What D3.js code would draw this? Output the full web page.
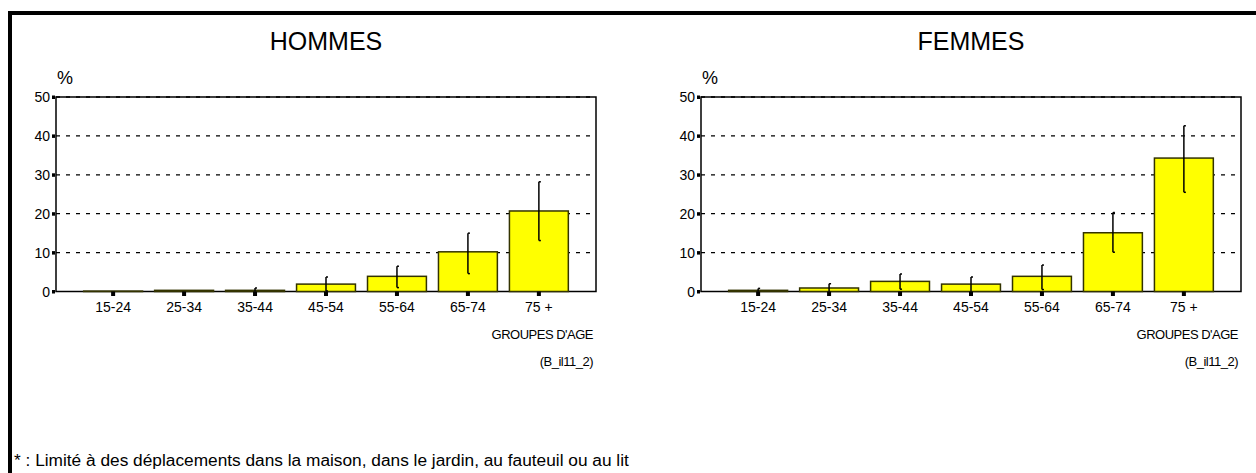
<!DOCTYPE html>
<html>
<head>
<meta charset="utf-8">
<script src="https://cdn.jsdelivr.net/npm/d3@7"></script>
<style>
  body { margin: 0; background: #fff; }
  text { font-family: Arial, "Liberation Sans", sans-serif; fill: #000; }
</style>
</head>
<body>
<div id="chart"></div>
<script>
// age groups
var ageGroups = ['15-24', '25-34', '35-44', '45-54', '55-64', '65-74', '75 +'];
var yTicks = [0, 10, 20, 30, 40, 50];

// hommes : % and confidence interval
var menValues = [0.1, 0.3, 0.3, 1.9, 3.9, 10.2, 20.7];
var menLow = [0, 0, 0, 0.1, 1.0, 4.6, 13.1];
var menHigh = [0, 0, 0.9, 3.7, 6.5, 15.0, 28.2];

// femmes
var womenValues = [0.3, 0.9, 2.6, 1.9, 3.9, 15.1, 34.3];
var womenLow = [0, 0, 0.6, 0, 0.5, 10.1, 25.5];
var womenHigh = [0.8, 2.0, 4.5, 3.7, 6.8, 20.3, 42.6];

var footnote = '* : Limité à des déplacements dans la maison, dans le jardin, au fauteuil ou au lit';

var width = 1256, height = 473;

var svg = d3.select('#chart').append('svg')
    .attr('width', width)
    .attr('height', height);

// frame (only top and left)
svg.append('rect').attr('x', 8).attr('y', 11).attr('width', width - 8).attr('height', 4).style('fill', '#000');
svg.append('rect').attr('x', 8).attr('y', 11).attr('width', 4).attr('height', height - 11).style('fill', '#000');

function panel(left, title, values, low, high) {
    var plotW = 540, top = 97, bottom = 291.5;

    var x = d3.scaleBand()
        .domain(ageGroups)
        .range([left, left + plotW])
        .paddingInner(0.17)
        .paddingOuter(0.39);

    var y = d3.scaleLinear()
        .domain([0, 50])
        .range([bottom, top]);

    var g = svg.append('g');

    // title
    g.append('text')
        .attr('x', left + plotW / 2)
        .attr('y', 50)
        .attr('text-anchor', 'middle')
        .style('font-size', '25px')
        .text(title);

    g.append('text')
        .attr('x', left + 1)
        .attr('y', 84)
        .style('font-size', '18px')
        .text('%');

    // dashed grid
    g.selectAll('.grid')
        .data(yTicks.filter(function (d) { return d > 0; }))
        .enter().append('line')
        .attr('x1', left).attr('x2', left + plotW)
        .attr('y1', function (d) { return y(d); })
        .attr('y2', function (d) { return y(d); })
        .style('stroke', '#000')
        .style('stroke-width', 1.3)
        .style('stroke-dasharray', '4,6');

    // plot frame
    g.append('rect')
        .attr('x', left).attr('y', top)
        .attr('width', plotW).attr('height', bottom - top)
        .style('fill', 'none')
        .style('stroke', '#000')
        .style('stroke-width', 1.5);

    // y ticks and labels
    g.selectAll('.ytick')
        .data(yTicks)
        .enter().append('rect')
        .attr('x', left - 4).attr('width', 3)
        .attr('y', function (d) { return y(d) - 1.5; })
        .attr('height', 3.5)
        .style('fill', '#000');

    g.selectAll('.ylab')
        .data(yTicks)
        .enter().append('text')
        .attr('x', left - 6)
        .attr('y', function (d) { return y(d); })
        .attr('dy', '.36em')
        .attr('text-anchor', 'end')
        .style('font-size', '14px')
        .text(function (d) { return d; });

    // bars
    g.selectAll('.bar')
        .data(values)
        .enter().append('rect')
        .attr('x', function (d, i) { return x(ageGroups[i]); })
        .attr('width', x.bandwidth())
        .attr('y', function (d) { return y(d); })
        .attr('height', function (d) { return bottom - y(d); })
        .style('fill', '#ffff00')
        .style('stroke', '#333300')
        .style('stroke-width', 1.5);

    // error bars
    var cx = function (i) { return x(ageGroups[i]) + x.bandwidth() / 2; };
    values.forEach(function (d, i) {
        if (high[i] <= low[i]) return;
        g.append('line')
            .attr('x1', cx(i)).attr('x2', cx(i))
            .attr('y1', y(high[i])).attr('y2', y(low[i]))
            .style('stroke', '#000').style('stroke-width', 1.5);
        [low[i], high[i]].forEach(function (v) {
            if (v <= 0) return;
            g.append('line')
                .attr('x1', cx(i)).attr('x2', cx(i) + 2)
                .attr('y1', y(v)).attr('y2', y(v))
                .style('stroke', '#000').style('stroke-width', 1.5);
        });
    });

    // x tick squares
    g.selectAll('.xtick')
        .data(ageGroups)
        .enter().append('rect')
        .attr('x', function (d) { return x(d) + x.bandwidth() / 2 - 2; })
        .attr('y', bottom)
        .attr('width', 4).attr('height', 4.5)
        .style('fill', '#000');

    g.selectAll('.xlab')
        .data(ageGroups)
        .enter().append('text')
        .attr('x', function (d) { return x(d) + x.bandwidth() / 2; })
        .attr('y', 312)
        .attr('text-anchor', 'middle')
        .style('font-size', '14px')
        .text(function (d) { return d; });

    g.append('text')
        .attr('x', left + plotW - 3)
        .attr('y', 339)
        .attr('text-anchor', 'end')
        .style('font-size', '13px')
        .style('letter-spacing', '-0.5px')
        .text("GROUPES D'AGE");

    g.append('text')
        .attr('x', left + plotW - 3)
        .attr('y', 366)
        .attr('text-anchor', 'end')
        .style('font-size', '13px')
        .style('letter-spacing', '-0.5px')
        .text('(B_il11_2)');
}

panel(56, 'HOMMES', menValues, menLow, menHigh);
panel(701, 'FEMMES', womenValues, womenLow, womenHigh);

svg.append('text')
    .attr('x', 14)
    .attr('y', 466)
    .style('font-size', '17.3px')
    .text(footnote);
</script>
</body>
</html>
